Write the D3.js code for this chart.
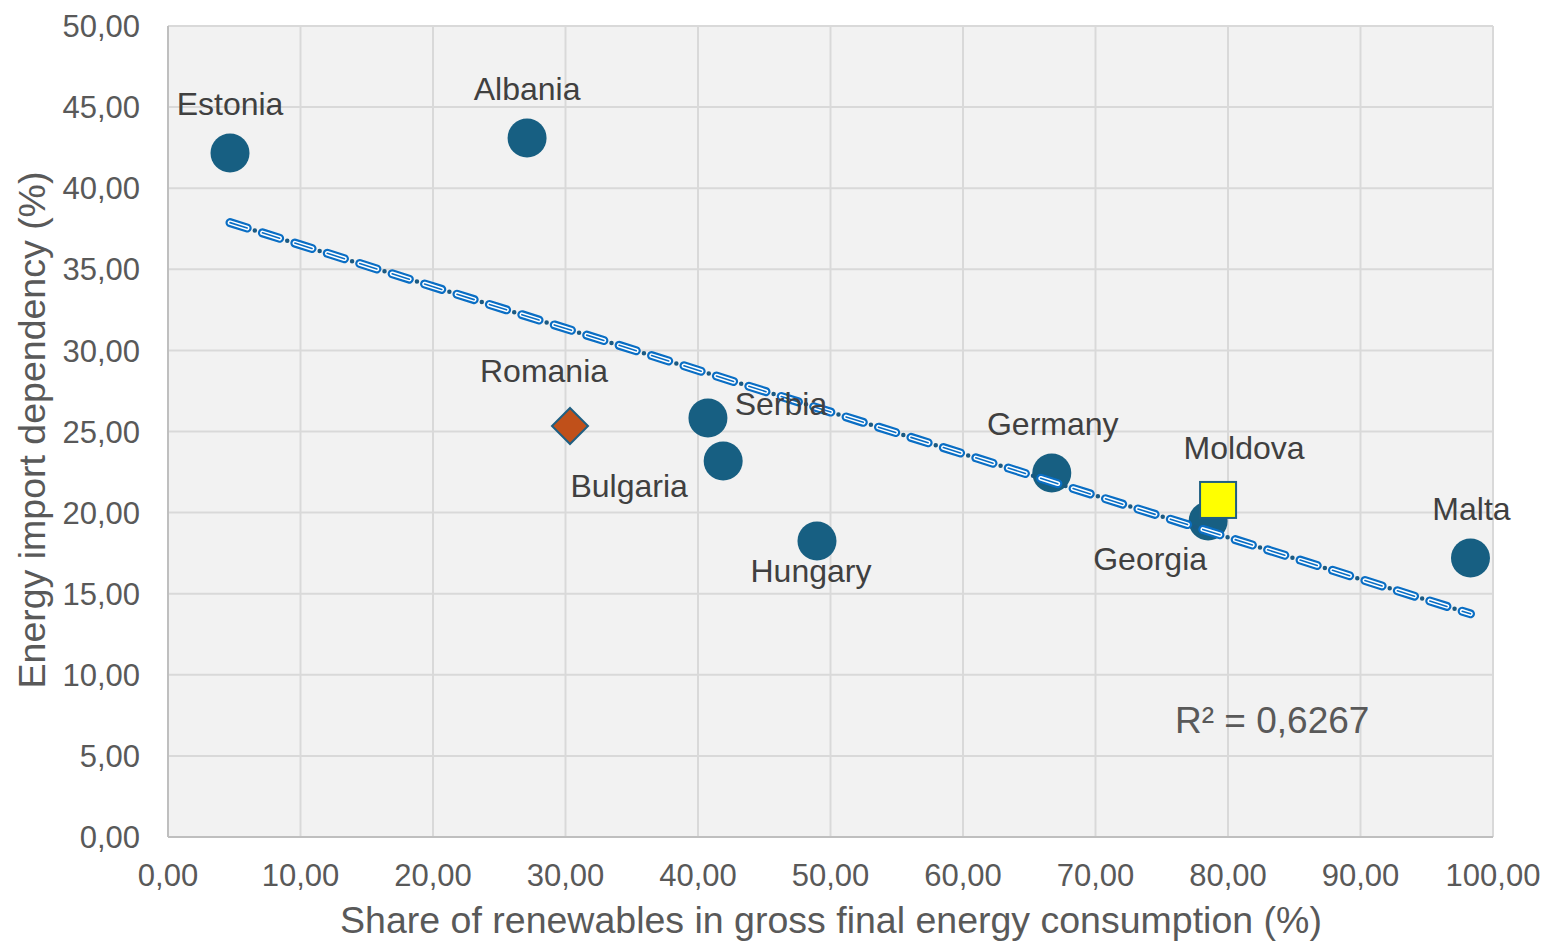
<!DOCTYPE html>
<html>
<head>
<meta charset="utf-8">
<script src="https://cdn.jsdelivr.net/npm/d3@7"></script>
<style>
body { margin: 0; background: #fff; }
text { font-family: "Liberation Sans", Arial, sans-serif; }
</style>
</head>
<body>
<svg id="chart"></svg>
<script>
// data
var countries = ["Estonia", "Albania", "Romania", "Serbia", "Bulgaria", "Hungary", "Germany", "Georgia", "Moldova", "Malta"];
var renewables = [4.68, 27.1, 30.34, 40.75, 41.9, 48.98, 66.7, 78.5, 79.25, 98.3];
var importDep = [42.17, 43.1, 25.34, 25.83, 23.18, 18.25, 22.44, 19.48, 20.78, 17.2];
var markerType = ["circle", "circle", "diamond", "circle", "circle", "circle", "circle", "circle", "square", "circle"];
var xTicks = d3.range(0, 101, 10);
var yTicks = d3.range(0, 51, 5);
var rSquared = "0,6267";

// label placement (pixels from marker)
var labelDx = [0, 0, -26, 73, -94, -6, 1, -58, 26, 1];
var labelDy = [-38, -38, -44, -3, 36, 41, -38, 49, -41, -38];

var width = 1544, height = 943;
var plotL = 168, plotR = 1493, plotT = 26, plotB = 837;

var svg = d3.select("#chart").attr("width", width).attr("height", height);

var x = d3.scaleLinear().domain([0, 100]).range([plotL, plotR]);
var y = d3.scaleLinear().domain([0, 50]).range([plotB, plotT]);

var fmt = function(v) { return v.toFixed(2).replace(".", ","); };

svg.append("rect").attr("x", plotL).attr("y", plotT).attr("width", plotR - plotL).attr("height", plotB - plotT).style("fill", "#f2f2f2");

// grid
svg.selectAll(".vgrid").data(xTicks.slice(1)).enter().append("line")
  .attr("x1", function(d){ return x(d); }).attr("x2", function(d){ return x(d); })
  .attr("y1", plotT).attr("y2", plotB).style("stroke", "#d9d9d9").style("stroke-width", 2);
svg.selectAll(".hgrid").data(yTicks.slice(1)).enter().append("line")
  .attr("x1", plotL).attr("x2", plotR)
  .attr("y1", function(d){ return y(d); }).attr("y2", function(d){ return y(d); })
  .style("stroke", "#d9d9d9").style("stroke-width", 2);

// axis lines
svg.append("line").attr("x1", plotL).attr("x2", plotL).attr("y1", plotT).attr("y2", plotB).style("stroke", "#bfbfbf").style("stroke-width", 2);
svg.append("line").attr("x1", plotL).attr("x2", plotR).attr("y1", plotB).attr("y2", plotB).style("stroke", "#bfbfbf").style("stroke-width", 2);

// tick labels
svg.selectAll(".ytick").data(yTicks).enter().append("text")
  .attr("x", plotL - 28).attr("y", function(d){ return y(d); }).attr("dy", "0.36em")
  .attr("text-anchor", "end").style("font-size", "31px").style("fill", "#595959")
  .text(fmt);
svg.selectAll(".xtick").data(xTicks).enter().append("text")
  .attr("x", function(d){ return x(d); }).attr("y", 886)
  .attr("text-anchor", "middle").style("font-size", "31px").style("fill", "#595959")
  .text(fmt);

// axis titles
svg.append("text").attr("x", 831).attr("y", 933).attr("text-anchor", "middle")
  .style("font-size", "37.5px").style("fill", "#595959")
  .text("Share of renewables in gross final energy consumption (%)");
svg.append("text").attr("transform", "translate(45,430) rotate(-90)").attr("text-anchor", "middle")
  .style("font-size", "37.5px").style("fill", "#595959")
  .text("Energy import dependency (%)");

var pts = countries.map(function(c, i){ return {name: c, x: renewables[i], y: importDep[i], type: markerType[i], dx: labelDx[i], dy: labelDy[i]}; });

// circles and diamond
svg.selectAll(".dot").data(pts.filter(function(d){ return d.type == "circle"; })).enter().append("circle")
  .attr("cx", function(d){ return x(d.x); }).attr("cy", function(d){ return y(d.y); })
  .attr("r", 19.5).style("fill", "#175f82");
svg.selectAll(".dia").data(pts.filter(function(d){ return d.type == "diamond"; })).enter().append("path")
  .attr("d", function(d){
    var cx = x(d.x), cy = y(d.y), s = 18;
    return "M" + cx + "," + (cy - s) + "L" + (cx + s) + "," + cy + "L" + cx + "," + (cy + s) + "L" + (cx - s) + "," + cy + "Z";
  })
  .style("fill", "#c0501a").style("stroke", "#1f5f82").style("stroke-width", 2);

// linear trendline
var xm = d3.mean(renewables), ym = d3.mean(importDep);
var sxy = d3.sum(renewables, function(v, i){ return (v - xm) * (importDep[i] - ym); });
var sxx = d3.sum(renewables, function(v){ return (v - xm) * (v - xm); });
var slope = sxy / sxx, icpt = ym - slope * xm;
var xs = d3.extent(renewables);
var tl = [[x(xs[0]), y(icpt + slope * xs[0])], [x(xs[1]), y(icpt + slope * xs[1])]];
var tline = d3.line();
var layers = [
  {c: "#0a6ec4", w: 9, dash: "18 16", off: 0},
  {c: "#ffffff", w: 4.6, dash: "18 16", off: 0},
  {c: "#0a6ec4", w: 1.6, dash: "18 16", off: 0},
  {c: "#1b5a82", w: 4.5, dash: "0 34", off: -26}
];
layers.forEach(function(l){
  svg.append("path").attr("d", tline(tl)).style("fill", "none")
    .style("stroke", l.c).style("stroke-width", l.w).style("stroke-linecap", "round")
    .style("stroke-dasharray", l.dash).style("stroke-dashoffset", l.off);
});

// square on top
svg.selectAll(".sq").data(pts.filter(function(d){ return d.type == "square"; })).enter().append("rect")
  .attr("x", function(d){ return x(d.x) - 18; }).attr("y", function(d){ return y(d.y) - 18; })
  .attr("width", 36).attr("height", 36)
  .style("fill", "#ffff00").style("stroke", "#1f5f82").style("stroke-width", 2);

// labels
svg.selectAll(".lbl").data(pts).enter().append("text")
  .attr("x", function(d){ return x(d.x) + d.dx; }).attr("y", function(d){ return y(d.y) + d.dy; })
  .attr("text-anchor", "middle").style("font-size", "32px").style("fill", "#404040")
  .text(function(d){ return d.name; });

svg.append("text").attr("x", 1175).attr("y", 733).style("font-size", "37px").style("fill", "#595959")
  .text("R² = " + rSquared);
</script>
</body>
</html>
